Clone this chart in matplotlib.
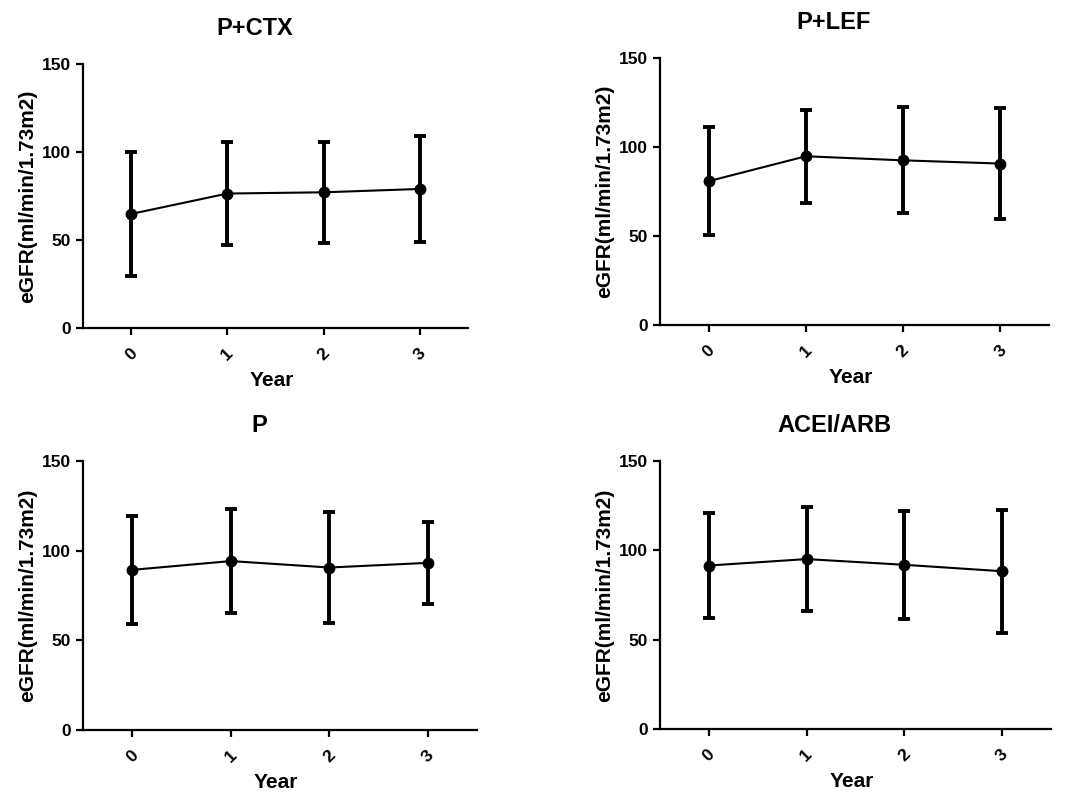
import matplotlib
matplotlib.use("Agg")
import matplotlib.pyplot as plt

plt.rcParams['font.family'] = ['Liberation Sans', 'DejaVu Sans']
plt.rcParams['font.weight'] = 'bold'

years = [0, 1, 2, 3]
year_labels = ["0", "1", "2", "3"]
titles = ["P+CTX", "P+LEF", "P", "ACEI/ARB"]

ctx_mean = [64.8, 76.4, 77.1, 79.0]
ctx_sd = [35.0, 29.5, 28.8, 30.0]
lef_mean = [80.8, 94.8, 92.5, 90.7]
lef_sd = [30.2, 26.0, 29.8, 31.0]
p_mean = [89.3, 94.2, 90.6, 93.2]
p_sd = [30.0, 29.2, 31.2, 22.8]
acei_mean = [91.5, 95.1, 91.9, 88.3]
acei_sd = [29.3, 29.0, 30.3, 34.5]

means = [ctx_mean, lef_mean, p_mean, acei_mean]
sds = [ctx_sd, lef_sd, p_sd, acei_sd]

W, H = 1072, 794
fig = plt.figure(figsize=(W / 100, H / 100), dpi=100)

# axes boxes in pixels: left, right, top, bottom
boxes = [(83, 468, 64, 328), (660, 1049, 58, 325),
         (83, 477, 461, 730), (660, 1051, 461, 729)]

for box, title, m, s in zip(boxes, titles, means, sds):
    l, r, t, b = box
    ax = fig.add_axes([l / W, 1 - b / H, (r - l) / W, (b - t) / H])
    ax.errorbar(years, m, yerr=s, color='black', lw=1.5, elinewidth=2.8,
                capsize=4.5, capthick=2.8, marker='o', markersize=7.5)
    ax.set_xlim(-0.5, 3.5)
    ax.set_ylim(0, 150)
    ax.set_yticks([0, 50, 100, 150])
    ax.set_xticks(years)
    ax.set_xticklabels(year_labels, rotation=45, ha='center', va='center',
                       rotation_mode='anchor')
    for sp in ['top', 'right']:
        ax.spines[sp].set_visible(False)
    for sp in ['left', 'bottom']:
        ax.spines[sp].set_linewidth(1.6)
    ax.tick_params(axis='both', width=1.6, length=5, labelsize=12.5, direction='out')
    for lab in ax.get_xticklabels() + ax.get_yticklabels():
        lab.set_fontweight('bold')
    ax.tick_params(axis='x', pad=14)
    ax.set_xlabel("Year", fontsize=15, fontweight='bold')
    ax.set_ylabel("eGFR(ml/min/1.73m2)", fontsize=15, fontweight='bold')
    hgt = b - t
    wid = r - l
    ax.xaxis.set_label_coords(0.5 - 4 / wid, -43 / hgt)
    ax.yaxis.set_label_coords(-46 / wid, 0.5)
    ax.set_title(title, fontsize=17, fontweight='bold', x=0.5 - 21 / wid, pad=21)

fig.savefig("out.png", dpi=100)
